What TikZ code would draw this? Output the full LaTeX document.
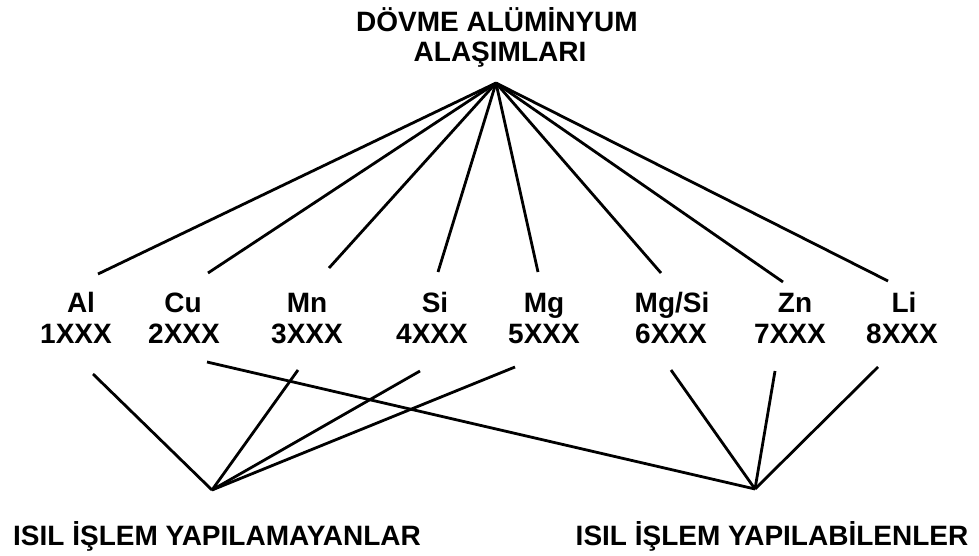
\documentclass[tikz,border=0pt]{standalone}
\usepackage{fontspec}
\setmainfont{Liberation Sans}
\begin{document}
\begin{tikzpicture}[x=1pt,y=-1pt,
  lbl/.style={font=\fontsize{28}{30}\selectfont\bfseries, inner sep=0pt, anchor=base},
  link/.style={line width=2.8pt, black}]
  \useasboundingbox (0,0) rectangle (979,556);

  % title
  \node[lbl] (title1) at (497,32) {DÖVME ALÜMİNYUM};
  \node[lbl] (title2) at (500,62) {ALAŞIMLARI};
  \coordinate (top) at (496,83);

  % the two groups
  \node[lbl] (nonheat) at (217,545) {ISIL İŞLEM YAPILAMAYANLAR};
  \node[lbl] (heat) at (772,545) {ISIL İŞLEM YAPILABİLENLER};
  \coordinate (nh) at (212,490);
  \coordinate (ht) at (755,489);

  % alloy series: name, series number, upper and lower line ends, group
  \foreach \id/\nm/\num/\xa/\xb/\ux/\uy/\dx/\dy/\grp in {
      al/Al/1XXX/81/76/98/274/93/374/nh,
      cu/Cu/2XXX/183/184/208/273/207/362/ht,
      mn/Mn/3XXX/307/307/329/268/298/370/nh,
      si/Si/4XXX/435/432/438/272/420/371/nh,
      mg/Mg/5XXX/544/544/538/272/515/367/nh,
      mgsi/Mg\slash Si/6XXX/672/671/661/273/671/370/ht,
      zn/Zn/7XXX/795/790/783/282/775/371/ht,
      li/Li/8XXX/904/902/888/281/878/367/ht}{
    \node[lbl] (\id) at (\xa,312) {\nm};
    \node[lbl] (\id-no) at (\xb,343) {\num};
    \coordinate (\id-up) at (\ux,\uy);
    \coordinate (\id-dn) at (\dx,\dy);
    \draw[link] (top) -- (\id-up);
    \draw[link] (\id-dn) -- (\grp);
  }
\end{tikzpicture}
\end{document}
